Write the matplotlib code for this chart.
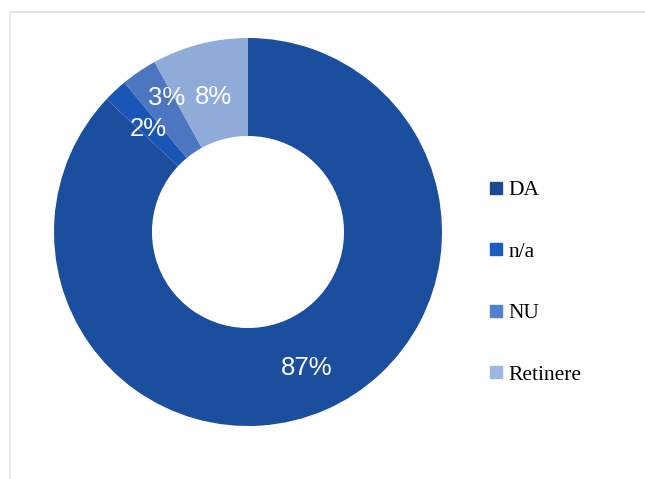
import numpy as np
import matplotlib.pyplot as plt
from matplotlib.lines import Line2D

categories = ['DA', 'n/a', 'NU', 'Retinere']
values = [87, 2, 3, 8]
colors = ['#1c4e9e', '#1a56b6', '#4c76c0', '#90abd8']
legend_colors = ['#1a4a92', '#1b5cc2', '#4f82d0', '#9cb8e2']

W, H = 645, 479
fig = plt.figure(figsize=(W / 100, H / 100), dpi=100)

# faint frame of the original slide
frame = fig.add_axes([0, 0, 1, 1])
frame.set_xlim(0, W)
frame.set_ylim(H, 0)
frame.axis('off')
frame.plot([10, W], [12, 12], color='#d9dfe9', lw=1.2)
frame.plot([10, 10], [12, H], color='#e4e8ef', lw=1.2)

# donut
cx, cy, r = 248, 232, 194
ax = fig.add_axes([(cx - r) / W, (H - cy - r) / H, 2 * r / W, 2 * r / H])
wedges, texts, autotexts = ax.pie(
    values, colors=colors, startangle=90, counterclock=False,
    radius=1.0, wedgeprops=dict(width=0.505, linewidth=0),
    autopct=lambda p: f'{p:.0f}%', pctdistance=0.75,
    textprops=dict(color='white', fontsize=18.5, family='Liberation Sans'))
ax.set_xlim(-1, 1)
ax.set_ylim(-1, 1)
ax.set_aspect('equal')
ax.axis('off')

# label placement tweaks (radius, angle shift in degrees)
label_r = [0.765, 0.74, 0.81, 0.72]
label_shift = [0, -1, 3, 0]
for w, t, lr, sh in zip(wedges, autotexts, label_r, label_shift):
    mid = np.deg2rad((w.theta1 + w.theta2) / 2 - sh)
    t.set_position((lr * np.cos(mid), lr * np.sin(mid)))

handles = [Line2D([], [], marker='s', ls='', markersize=8, color=c)
           for c in legend_colors]
fig.legend(handles, categories, loc='upper left',
           bbox_to_anchor=(488 / W, 1 - 180 / H), frameon=False,
           prop=dict(family='Liberation Serif', size=15.5),
           labelspacing=1.93, handlelength=0.75, handletextpad=0.2,
           borderpad=0, borderaxespad=0)

fig.savefig('out.png', dpi=100)
